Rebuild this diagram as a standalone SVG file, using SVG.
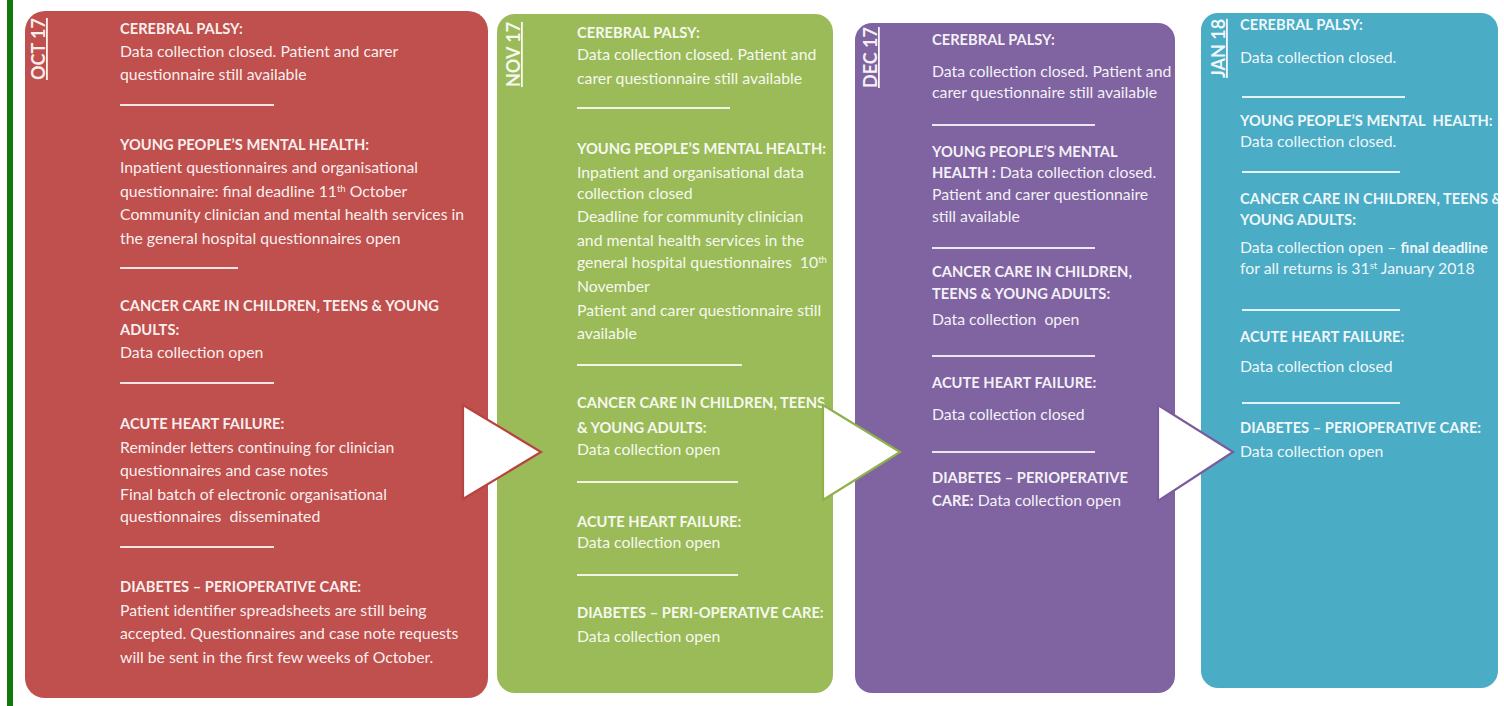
<svg xmlns="http://www.w3.org/2000/svg" width="1504" height="706" viewBox="0 0 1504 706">
<style>
text{font-family:Lato,"Liberation Sans",sans-serif;font-size:15.8px;fill:#fff;fill-opacity:0.93}
.h{font-weight:bold;font-size:14.7px}
.lbl{font-weight:bold;font-size:18px;text-decoration:underline}
.sep{stroke:#fff;stroke-opacity:0.85;stroke-width:2}
.sup{font-size:9.5px}
.arrow{fill:#fff;stroke-width:2.2;stroke-linejoin:miter}
</style>
<rect width="1504" height="706" fill="#fff"/>
<rect x="7" y="0" width="6" height="706" fill="#12790f"/>

<g id="oct17">
<rect x="25" y="11" width="463" height="687" rx="20" fill="#c0504d"/>
<text class="lbl" transform="translate(45,80) rotate(-90)">OCT 17</text>
<text class="h" x="120" y="34">CEREBRAL PALSY:</text>
<text x="120" y="57">Data collection closed. Patient and carer</text>
<text x="120" y="80">questionnaire still available</text>
<line class="sep" x1="120" y1="105" x2="274" y2="105"/>
<text class="h" x="120" y="150">YOUNG PEOPLE’S MENTAL HEALTH:</text>
<text x="120" y="173">Inpatient questionnaires and organisational</text>
<text x="120" y="197">questionnaire: final deadline 11<tspan class="sup" dy="-5">th</tspan><tspan dy="5"> October</tspan></text>
<text x="120" y="220">Community clinician and mental health services in</text>
<text x="120" y="244">the general hospital questionnaires open</text>
<line class="sep" x1="120" y1="268" x2="238" y2="268"/>
<text class="h" x="120" y="311">CANCER CARE IN CHILDREN, TEENS &amp; YOUNG</text>
<text class="h" x="120" y="335">ADULTS:</text>
<text x="120" y="358">Data collection open</text>
<line class="sep" x1="120" y1="383" x2="274" y2="383"/>
<text class="h" x="120" y="429">ACUTE HEART FAILURE:</text>
<text x="120" y="453">Reminder letters continuing for clinician</text>
<text x="120" y="476">questionnaires and case notes</text>
<text x="120" y="500">Final batch of electronic organisational</text>
<text x="120" y="522">questionnaires&#160; disseminated</text>
<line class="sep" x1="120" y1="547" x2="274" y2="547"/>
<text class="h" x="120" y="592">DIABETES – PERIOPERATIVE CARE:</text>
<text x="120" y="616">Patient identifier spreadsheets are still being</text>
<text x="120" y="639">accepted. Questionnaires and case note requests</text>
<text x="120" y="663">will be sent in the first few weeks of October.</text>
</g>

<g id="nov17">
<rect x="497" y="14" width="336" height="679" rx="18" fill="#9bbb59"/>
<text class="lbl" transform="translate(520,87) rotate(-90)">NOV 17</text>
<text class="h" x="577" y="38">CEREBRAL PALSY:</text>
<text x="577" y="60">Data collection closed. Patient and</text>
<text x="577" y="84">carer questionnaire still available</text>
<line class="sep" x1="577" y1="108" x2="730" y2="108"/>
<text class="h" x="577" y="154">YOUNG PEOPLE’S MENTAL HEALTH:</text>
<text x="577" y="178">Inpatient and organisational data</text>
<text x="577" y="199">collection closed</text>
<text x="577" y="222">Deadline for community clinician</text>
<text x="577" y="246">and mental health services in the</text>
<text x="577" y="268">general hospital questionnaires&#160; 10<tspan class="sup" dy="-5">th</tspan></text>
<text x="577" y="292">November</text>
<text x="577" y="316">Patient and carer questionnaire still</text>
<text x="577" y="339">available</text>
<line class="sep" x1="577" y1="365" x2="742" y2="365"/>
<text class="h" x="577" y="408">CANCER CARE IN CHILDREN, TEENS</text>
<text class="h" x="577" y="433">&amp; YOUNG ADULTS:</text>
<text x="577" y="455">Data collection open</text>
<line class="sep" x1="577" y1="482" x2="738" y2="482"/>
<text class="h" x="577" y="527">ACUTE HEART FAILURE:</text>
<text x="577" y="548">Data collection open</text>
<line class="sep" x1="577" y1="575" x2="738" y2="575"/>
<text class="h" x="577" y="618">DIABETES – PERI-OPERATIVE CARE:</text>
<text x="577" y="642">Data collection open</text>
</g>

<g id="dec17">
<rect x="855" y="23" width="320" height="670" rx="17" fill="#8064a2"/>
<text class="lbl" transform="translate(877,88) rotate(-90)">DEC 17</text>
<text class="h" x="932" y="45">CEREBRAL PALSY:</text>
<text x="932" y="77">Data collection closed. Patient and</text>
<text x="932" y="98">carer questionnaire still available</text>
<line class="sep" x1="932" y1="125" x2="1095" y2="125"/>
<text class="h" x="932" y="157">YOUNG PEOPLE’S MENTAL</text>
<text x="932" y="178"><tspan class="h">HEALTH :</tspan> Data collection closed.</text>
<text x="932" y="200">Patient and carer questionnaire</text>
<text x="932" y="222">still available</text>
<line class="sep" x1="932" y1="248" x2="1095" y2="248"/>
<text class="h" x="932" y="277">CANCER CARE IN CHILDREN,</text>
<text class="h" x="932" y="299">TEENS &amp; YOUNG ADULTS:</text>
<text x="932" y="325">Data collection&#160; open</text>
<line class="sep" x1="932" y1="356" x2="1095" y2="356"/>
<text class="h" x="932" y="388">ACUTE HEART FAILURE:</text>
<text x="932" y="420">Data collection closed</text>
<line class="sep" x1="932" y1="452" x2="1095" y2="452"/>
<text class="h" x="932" y="483">DIABETES – PERIOPERATIVE</text>
<text x="932" y="506"><tspan class="h">CARE:</tspan> Data collection open</text>
</g>

<g id="jan18">
<rect x="1201" y="13" width="297" height="675" rx="17" fill="#4bacc6"/>
<text class="lbl" transform="translate(1225,78) rotate(-90)">JAN 18</text>
<text class="h" x="1240" y="30">CEREBRAL PALSY:</text>
<text x="1240" y="63">Data collection closed.</text>
<line class="sep" x1="1242" y1="97" x2="1405" y2="97"/>
<text class="h" x="1240" y="126">YOUNG PEOPLE’S MENTAL&#160; HEALTH:</text>
<text x="1240" y="147">Data collection closed.</text>
<line class="sep" x1="1242" y1="172" x2="1400" y2="172"/>
<text class="h" x="1240" y="204">CANCER CARE IN CHILDREN, TEENS &amp;</text>
<text class="h" x="1240" y="225">YOUNG ADULTS:</text>
<text x="1240" y="253">Data collection open – <tspan class="h">final deadline</tspan></text>
<text x="1240" y="274">for all returns is 31<tspan class="sup" dy="-5">st</tspan><tspan dy="5"> January 2018</tspan></text>
<line class="sep" x1="1242" y1="310" x2="1400" y2="310"/>
<text class="h" x="1240" y="342">ACUTE HEART FAILURE:</text>
<text x="1240" y="372">Data collection closed</text>
<line class="sep" x1="1242" y1="403" x2="1400" y2="403"/>
<text class="h" x="1240" y="433">DIABETES – PERIOPERATIVE CARE:</text>
<text x="1240" y="457">Data collection open</text>
</g>

<g id="connectors">
<polygon class="arrow" points="463,405 463,499 541,452" stroke="#b8443f"/>
<polygon class="arrow" points="823,405 823,500 900,452" stroke="#8fb04a"/>
<polygon class="arrow" points="1158,405 1158,501 1233,452" stroke="#7a5c9c"/>
</g>
</svg>
